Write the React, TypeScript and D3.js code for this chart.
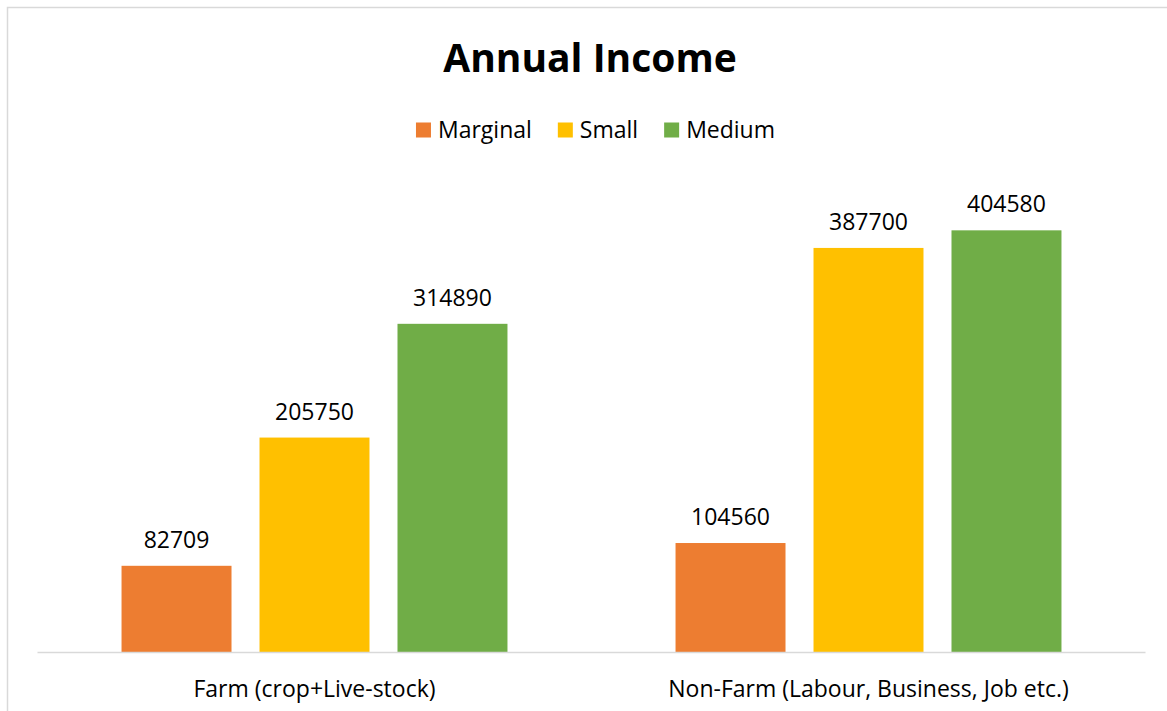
import { useEffect, useRef } from "react";
import * as d3 from "d3";

const categories = ["Farm (crop+Live-stock)", "Non-Farm (Labour, Business, Job etc.)"];
const seriesNames = ["Marginal", "Small", "Medium"];
const marginalValues = [82709, 104560];
const smallValues = [205750, 387700];
const mediumValues = [314890, 404580];
const seriesColors = ["#ED7D31", "#FFC000", "#70AD47"];

const WIDTH = 1167;
const HEIGHT = 711;
const FONT = "'Open Sans', 'Noto Sans', sans-serif";

export default function App() {
  const svgRef = useRef<SVGSVGElement>(null);

  useEffect(() => {
    if (!svgRef.current) return;
    const svg = d3.select(svgRef.current);
    svg.selectAll("*").remove();

    const values = [marginalValues, smallValues, mediumValues];

    // chart border (cropped on right/bottom in the original)
    svg
      .append("rect")
      .attr("x", 7.5)
      .attr("y", 7.5)
      .attr("width", WIDTH + 20)
      .attr("height", HEIGHT + 20)
      .attr("fill", "#fff")
      .attr("stroke", "#d9d9d9")
      .attr("stroke-width", 1.5);

    const plot = { left: 37.5, right: 1145.5, top: 183, bottom: 652 };

    const x0 = d3
      .scaleBand<string>()
      .domain(categories)
      .range([plot.left, plot.right])
      .padding(0);

    const x1 = d3
      .scaleBand<string>()
      .domain(seriesNames)
      .range([0, x0.bandwidth()])
      .paddingInner(0.203)
      .paddingOuter(0.609);

    const y = d3
      .scaleLinear()
      .domain([0, 450000])
      .range([plot.bottom, plot.top]);

    // Title
    svg
      .append("text")
      .attr("x", 590)
      .attr("y", 72)
      .attr("text-anchor", "middle")
      .attr("font-family", FONT)
      .attr("font-weight", 700)
      .attr("font-size", 39)
      .attr("fill", "#000")
      .text("Annual Income");

    // Bars
    seriesNames.forEach((name, si) => {
      const g = svg.append("g");
      categories.forEach((cat, ci) => {
        const v = values[si][ci];
        const bx = (x0(cat) ?? 0) + (x1(name) ?? 0);
        g.append("rect")
          .attr("x", bx)
          .attr("y", y(v))
          .attr("width", x1.bandwidth())
          .attr("height", y(0) - y(v))
          .attr("fill", seriesColors[si]);
        g.append("text")
          .attr("x", bx + x1.bandwidth() / 2)
          .attr("y", y(v) - 18)
          .attr("text-anchor", "middle")
          .attr("font-family", FONT)
          .attr("font-size", 23)
          .attr("fill", "#000")
          .text(String(v));
      });
    });

    // Baseline axis
    svg
      .append("line")
      .attr("x1", plot.left)
      .attr("x2", plot.right)
      .attr("y1", y(0) + 0.5)
      .attr("y2", y(0) + 0.5)
      .attr("stroke", "#d9d9d9")
      .attr("stroke-width", 1.5);

    // Category labels
    svg
      .selectAll("text.cat")
      .data(categories)
      .join("text")
      .attr("class", "cat")
      .attr("x", (d) => (x0(d) ?? 0) + x0.bandwidth() / 2)
      .attr("y", 697)
      .attr("text-anchor", "middle")
      .attr("font-family", FONT)
      .attr("font-size", 23)
      .attr("fill", "#000")
      .text((d) => d);

    // Legend
    const legend = svg.append("g");
    const swatch = 15;
    const textGap = 7;
    const itemGap = 26;
    let cursor = 0;
    seriesNames.forEach((name, i) => {
      const item = legend.append("g").attr("transform", `translate(${cursor},0)`);
      item
        .append("rect")
        .attr("x", 0)
        .attr("y", 122.5)
        .attr("width", swatch)
        .attr("height", swatch)
        .attr("fill", seriesColors[i]);
      const t = item
        .append("text")
        .attr("x", swatch + textGap)
        .attr("y", 138)
        .attr("font-family", FONT)
        .attr("font-size", 23)
        .attr("fill", "#000")
        .text(name);
      const w = (t.node() as SVGTextElement).getComputedTextLength();
      cursor += swatch + textGap + w + itemGap;
    });
    const legendWidth = cursor - itemGap;
    legend.attr("transform", `translate(${595.5 - legendWidth / 2},0)`);
  }, []);

  return (
    <svg
      ref={svgRef}
      width={WIDTH}
      height={HEIGHT}
      style={{ position: "absolute", left: 0, top: 0, background: "#fff" }}
    />
  );
}
